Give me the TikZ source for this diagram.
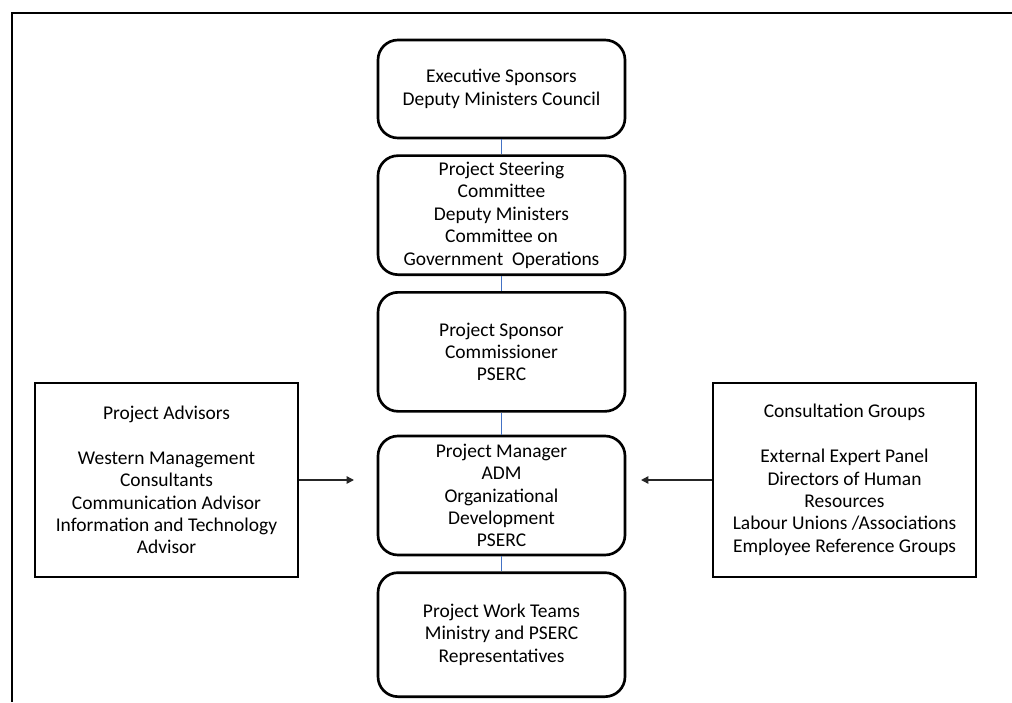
\documentclass[tikz,border=0pt]{standalone}
\usepackage{fontspec}
\setmainfont{Carlito}
\usepackage{tikz}
\usetikzlibrary{positioning, arrows, arrows.meta, shapes}
\definecolor{linkblue}{RGB}{68,114,196}

\begin{document}
\begin{tikzpicture}[x=0.75pt,y=0.75pt,
every node/.style={font=\fontsize{14.6pt}{16.8pt}\selectfont, align=center},
tier/.style={draw, line width=2pt, rounded corners=15pt, minimum width=185.25pt, minimum height=89.25pt, inner sep=2pt},
side/.style={draw, line width=2pt, minimum width=197.25pt, minimum height=145.5pt, inner sep=2pt},
link/.style={draw=linkblue, line width=1pt},
feed/.style={-{Triangle[length=5.5pt,width=5.5pt]}, line width=1.1pt, draw=black!85}]

\useasboundingbox (0,0) rectangle (1012,-702);
% frame
\draw[line width=2pt] (1012,-13) -- (12,-13) -- (12,-702);

% chain of command
\node[tier, minimum height=73.5pt] (exec) at (501.5,-89) {Executive Sponsors\\Deputy Ministers Council};
\node[tier, below=11.25pt of exec] (steer) {Project Steering\\Committee\\Deputy Ministers\\Committee on\\Government~ Operations};
\node[tier, below=11.25pt of steer] (sponsor) {Project Sponsor\\Commissioner\\PSERC};
\node[tier, below=16.5pt of sponsor] (manager) {Project Manager\\ADM\\Organizational\\Development\\PSERC};
\node[tier, below=11.25pt of manager, minimum height=93pt] (teams) {Project Work Teams\\Ministry and PSERC\\Representatives};

\node[side] (advisors) at (166.5,-480) {Project Advisors\\[16.8pt]Western Management\\Consultants\\Communication Advisor\\Information and Technology\\Advisor};
\node[side] (groups) at (844.5,-480) {Consultation Groups\\[16.8pt]External Expert Panel\\Directors of Human\\Resources\\Labour Unions /Associations\\Employee Reference Groups};

\coordinate (advend) at (354,-480);
\coordinate (grpend) at (641,-480);

\draw[link] (exec) -- (steer);
\draw[link] (steer) -- (sponsor);
\draw[link] (sponsor) -- (manager);
\draw[link] (manager) -- (teams);
\draw[feed] (advisors) -- (advend);
\draw[feed] (groups) -- (grpend);
\end{tikzpicture}
\end{document}
